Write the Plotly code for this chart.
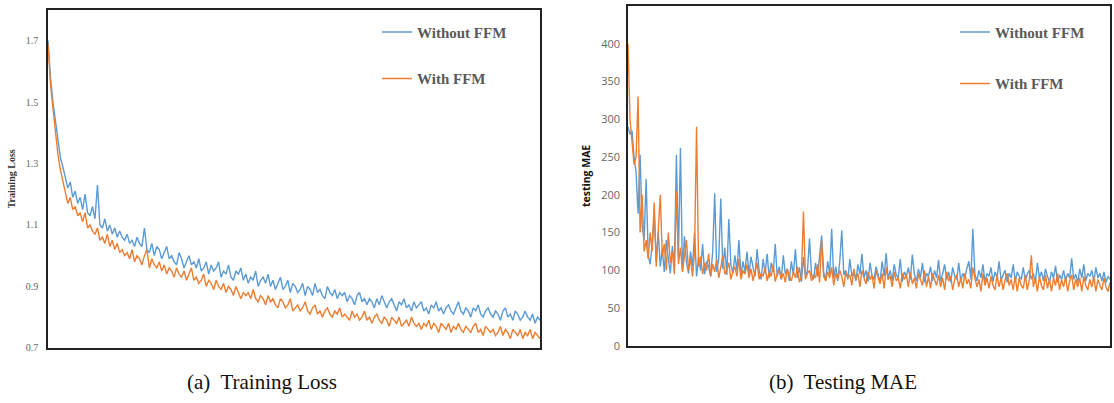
import plotly.graph_objects as go

# ---------------- data ----------------
loss_without_ffm = [
    1.70, 1.58, 1.50, 1.44, 1.37, 1.32, 1.29, 1.25, 1.22, 1.24,
    1.19, 1.21, 1.17, 1.19, 1.15, 1.20, 1.14, 1.13, 1.16, 1.12,
    1.23, 1.10, 1.09, 1.12, 1.08, 1.10, 1.07, 1.09, 1.06, 1.08,
    1.06, 1.05, 1.07, 1.04, 1.05, 1.03, 1.06, 1.04, 1.03, 1.09,
    1.02, 1.01, 1.04, 1.00, 1.03, 1.02, 0.99, 1.01, 1.03, 0.99,
    1.00, 0.98, 0.97, 1.01, 0.99, 0.96, 0.98, 1.00, 0.97, 0.98,
    0.96, 0.99, 0.95, 0.96, 0.98, 0.94, 0.97, 0.95, 0.96, 0.98,
    0.93, 0.95, 0.94, 0.97, 0.93, 0.92, 0.95, 0.94, 0.96, 0.92,
    0.94, 0.91, 0.93, 0.92, 0.95, 0.90, 0.92, 0.93, 0.91, 0.94,
    0.90, 0.92, 0.89, 0.91, 0.93, 0.89, 0.90, 0.92, 0.88, 0.91,
    0.90, 0.88, 0.89, 0.91, 0.87, 0.90, 0.89, 0.87, 0.91, 0.88,
    0.89, 0.87, 0.86, 0.90, 0.88, 0.87, 0.89, 0.86, 0.88, 0.87,
    0.88, 0.85, 0.87, 0.86, 0.84, 0.87, 0.88, 0.85, 0.86, 0.84,
    0.86, 0.85, 0.83, 0.86, 0.84, 0.87, 0.85, 0.83, 0.85, 0.86,
    0.84, 0.82, 0.85, 0.84, 0.86, 0.83, 0.84, 0.82, 0.85, 0.83,
    0.84, 0.85, 0.82, 0.83, 0.81, 0.84, 0.83, 0.85, 0.82, 0.83,
    0.81, 0.83, 0.84, 0.82, 0.81, 0.83, 0.85, 0.82, 0.81, 0.83,
    0.82, 0.80, 0.83, 0.82, 0.84, 0.81, 0.80, 0.82, 0.83, 0.81,
    0.80, 0.82, 0.81, 0.79, 0.82, 0.83, 0.80, 0.81, 0.79, 0.82,
    0.81, 0.79, 0.80, 0.82, 0.80, 0.79, 0.81, 0.78, 0.80, 0.79,
]
loss_with_ffm = [
    1.69, 1.56, 1.48, 1.40, 1.33, 1.28, 1.24, 1.20, 1.17, 1.19,
    1.15, 1.16, 1.13, 1.14, 1.11, 1.14, 1.09, 1.10, 1.08, 1.07,
    1.09, 1.05, 1.06, 1.04, 1.07, 1.03, 1.05, 1.02, 1.04, 1.01,
    1.02, 1.00, 1.01, 0.99, 1.02, 0.98, 1.00, 0.99, 0.97, 1.00,
    1.02, 0.96, 0.99, 0.97, 0.96, 0.98, 0.95, 0.97, 0.94, 0.96,
    0.95, 0.93, 0.96, 0.94, 0.93, 0.95, 0.92, 0.94, 0.96, 0.92,
    0.93, 0.91, 0.92, 0.94, 0.90, 0.92, 0.91, 0.89, 0.92, 0.90,
    0.89, 0.91, 0.88, 0.90, 0.89, 0.87, 0.90, 0.88, 0.86, 0.88,
    0.87, 0.88, 0.86, 0.89, 0.86, 0.85, 0.87, 0.86, 0.84, 0.87,
    0.85, 0.86, 0.84, 0.83, 0.86, 0.85, 0.83, 0.84, 0.86, 0.82,
    0.83, 0.84, 0.82, 0.83, 0.85, 0.82, 0.81, 0.83, 0.84, 0.81,
    0.82, 0.80, 0.82, 0.83, 0.81, 0.80, 0.82, 0.81, 0.83, 0.80,
    0.81, 0.80, 0.79, 0.82, 0.80, 0.81, 0.79, 0.80, 0.82, 0.79,
    0.80, 0.78, 0.80, 0.81, 0.79, 0.78, 0.80, 0.79, 0.77, 0.80,
    0.79, 0.78, 0.80, 0.77, 0.78, 0.79, 0.77, 0.80, 0.78, 0.77,
    0.78, 0.76, 0.78, 0.77, 0.79, 0.76, 0.78, 0.77, 0.75, 0.78,
    0.77, 0.76, 0.78, 0.75, 0.77, 0.76, 0.78, 0.76, 0.75, 0.77,
    0.76, 0.75, 0.77, 0.78, 0.75, 0.76, 0.74, 0.77, 0.76, 0.75,
    0.76, 0.74, 0.75, 0.77, 0.74, 0.76, 0.75, 0.73, 0.76, 0.75,
    0.74, 0.76, 0.73, 0.75, 0.74, 0.76, 0.73, 0.75, 0.74, 0.73,
]
mae_without_ffm = [
    290, 280, 285, 250, 230, 175, 253, 160, 140, 221,
    120, 108, 135, 175, 112, 150, 105, 128, 98, 140,
    115, 96, 132, 104, 253, 118, 262, 100, 145, 110,
    96, 125, 105, 150, 92, 118, 100, 135, 95, 112,
    105, 92, 125, 202, 98, 115, 195, 102, 130, 94,
    168, 108, 96, 120, 100, 140, 92, 112, 98, 125,
    95, 118, 104, 92, 128, 100, 88, 115, 96, 122,
    90, 110, 98, 135, 92, 105, 88, 120, 95, 102,
    86, 112, 94, 128, 90, 104, 85, 118, 92, 100,
    142, 95, 88, 110, 92, 118, 146, 98, 87, 112,
    95, 155, 90, 105, 86, 112, 153, 94, 100, 88,
    115, 92, 98, 86, 108, 95, 122, 90, 100, 85,
    110, 93, 88, 105, 96, 84, 112, 92, 123, 88,
    100, 86, 108, 94, 90, 115, 85, 98, 92, 104,
    88, 121, 95, 86, 102, 90, 110, 84, 96, 92,
    105, 86, 100, 90, 114, 85, 95, 108, 88, 98,
    84, 104, 92, 88, 110, 86, 96, 90, 102, 112,
    88, 155, 95, 86, 100, 90, 108, 84, 96, 92,
    104, 85, 98, 90, 112, 86, 94, 100, 84, 96,
    90, 108, 85, 98, 92, 88, 104, 86, 95, 100,
    88, 96, 84, 110, 90, 98, 86, 102, 92, 85,
    98, 90, 106, 84, 94, 88, 100, 86, 96, 90,
    116, 88, 95, 84, 102, 90, 108, 86, 96, 92,
    100, 85, 104, 90, 96, 86, 98, 84, 92, 88,
]
mae_with_ffm = [
    400, 300, 270, 240, 250, 330, 150, 200, 125, 140,
    115, 150, 125, 190, 105, 160, 200, 118, 135, 100,
    150, 110, 125, 95, 205, 108, 130, 98, 120, 140,
    100, 115, 92, 125, 290, 105, 118, 95, 110, 100,
    122, 92, 108, 98, 115, 90, 104, 120, 95, 100,
    110, 88, 98, 105, 92, 115, 88, 100, 95, 108,
    90, 102, 86, 98, 110, 88, 96, 92, 104, 86,
    98, 92, 108, 85, 95, 100, 88, 96, 84, 102,
    92, 86, 98, 90, 105, 84, 94, 178, 88, 96,
    100, 86, 94, 90, 108, 84, 140, 92, 86, 98,
    90, 104, 80, 96, 88, 100, 92, 78, 98, 90,
    94, 80, 102, 88, 96, 78, 100, 90, 82, 98,
    88, 94, 76, 100, 90, 82, 96, 76, 104, 88,
    92, 78, 98, 86, 90, 76, 96, 88, 94, 78,
    98, 82, 90, 76, 95, 88, 80, 100, 78, 92,
    76, 96, 88, 80, 94, 78, 90, 74, 98, 86,
    92, 74, 88, 94, 78, 90, 76, 96, 82, 88,
    76, 104, 90, 78, 88, 72, 96, 80, 90, 76,
    92, 80, 74, 94, 78, 90, 74, 88, 96, 80,
    88, 74, 92, 72, 90, 80, 76, 94, 74, 88,
    120, 78, 90, 72, 92, 80, 74, 94, 76, 88,
    72, 90, 80, 96, 74, 88, 78, 92, 72, 86,
    94, 74, 88, 78, 90, 72, 92, 80, 74, 88,
    78, 92, 72, 88, 80, 74, 90, 78, 72, 84,
]
series_names = ["Without FFM", "With FFM"]
loss_ticks = [0.7, 0.9, 1.1, 1.3, 1.5, 1.7]
mae_ticks = [0, 50, 100, 150, 200, 250, 300, 350, 400, 450]

BLUE = "#5B9BD5"
ORANGE = "#ED7D31"
GRAY = "#595959"
SERIF = "Liberation Serif, Times New Roman, serif"
SANS = "Open Sans, Liberation Sans, sans-serif"

x_loss = list(range(len(loss_without_ffm)))
x_mae = list(range(len(mae_without_ffm)))

fig = go.Figure()
fig.add_trace(go.Scatter(x=x_loss, y=loss_without_ffm, mode="lines", name=series_names[0],
                         line=dict(color=BLUE, width=1.4), xaxis="x", yaxis="y",
                         legend="legend", legendgroup="a1"))
fig.add_trace(go.Scatter(x=x_loss, y=loss_with_ffm, mode="lines", name=series_names[1],
                         line=dict(color=ORANGE, width=1.4), xaxis="x", yaxis="y",
                         legend="legend", legendgroup="a2"))
fig.add_trace(go.Scatter(x=x_mae, y=mae_without_ffm, mode="lines", name=series_names[0],
                         line=dict(color=BLUE, width=1.4), xaxis="x2", yaxis="y2",
                         legend="legend2", legendgroup="b1"))
fig.add_trace(go.Scatter(x=x_mae, y=mae_with_ffm, mode="lines", name=series_names[1],
                         line=dict(color=ORANGE, width=1.4), xaxis="x2", yaxis="y2",
                         legend="legend2", legendgroup="b2"))

W, H = 1114, 403
def px_x(p):
    return p / W
def px_y(p):
    return 1 - p / H

axis_line = dict(showline=True, linecolor="#222222", linewidth=1.5, mirror=True,
                 showgrid=False, zeroline=False)

fig.update_layout(
    width=W, height=H,
    margin=dict(l=0, r=0, t=0, b=0),
    paper_bgcolor="white", plot_bgcolor="white",
    xaxis=dict(domain=[px_x(48), px_x(540)], anchor="y",
               range=[0, len(loss_without_ffm) - 1], showticklabels=False, ticks="", **axis_line),
    yaxis=dict(domain=[px_y(354), px_y(10)], anchor="x",
               range=[0.7, 1.8], tickvals=loss_ticks, ticktext=[f"{v:.1f}" for v in loss_ticks],
               ticks="", ticklabelstandoff=6,
               tickfont=dict(family=SERIF, size=10, color="#666666"),
               title=dict(text="<b>Training Loss</b>", standoff=8,
                          font=dict(family=SERIF, size=10, color="#333333")),
               **axis_line),
    xaxis2=dict(domain=[px_x(628), px_x(1110)], anchor="y2",
                range=[0, len(mae_without_ffm) - 1], showticklabels=False, ticks="", **axis_line),
    yaxis2=dict(domain=[px_y(352), px_y(6)], anchor="x2",
                range=[0, 450], tickvals=mae_ticks, ticks="", ticklabelstandoff=4,
                tickfont=dict(family=SANS, size=11, color="#666666"),
                title=dict(text="<b>testing MAE</b>", standoff=8,
                           font=dict(family=SANS, size=10.5, color="#111111")),
                **axis_line),
    legend=dict(x=px_x(377), y=px_y(16), xanchor="left", yanchor="top",
                bgcolor="rgba(0,0,0,0)", tracegroupgap=24, itemwidth=30,
                font=dict(family=SERIF, size=15, color=GRAY, weight="bold")),
    legend2=dict(x=px_x(955), y=px_y(16), xanchor="left", yanchor="top",
                 bgcolor="rgba(0,0,0,0)", tracegroupgap=29, itemwidth=30,
                 font=dict(family=SERIF, size=15, color=GRAY, weight="bold")),
    showlegend=True,
)

fig.add_annotation(text="(a)  Training Loss", x=px_x(262), y=px_y(389), xref="paper", yref="paper",
                   showarrow=False, xanchor="center", yanchor="middle",
                   font=dict(family=SERIF, size=21, color="#111111"))
fig.add_annotation(text="(b)  Testing MAE", x=px_x(843), y=px_y(389), xref="paper", yref="paper",
                   showarrow=False, xanchor="center", yanchor="middle",
                   font=dict(family=SERIF, size=21, color="#111111"))

fig.write_html("out.html", config={"displayModeBar": False},
               post_script="document.body.style.margin='0';document.body.style.overflow='hidden';")
